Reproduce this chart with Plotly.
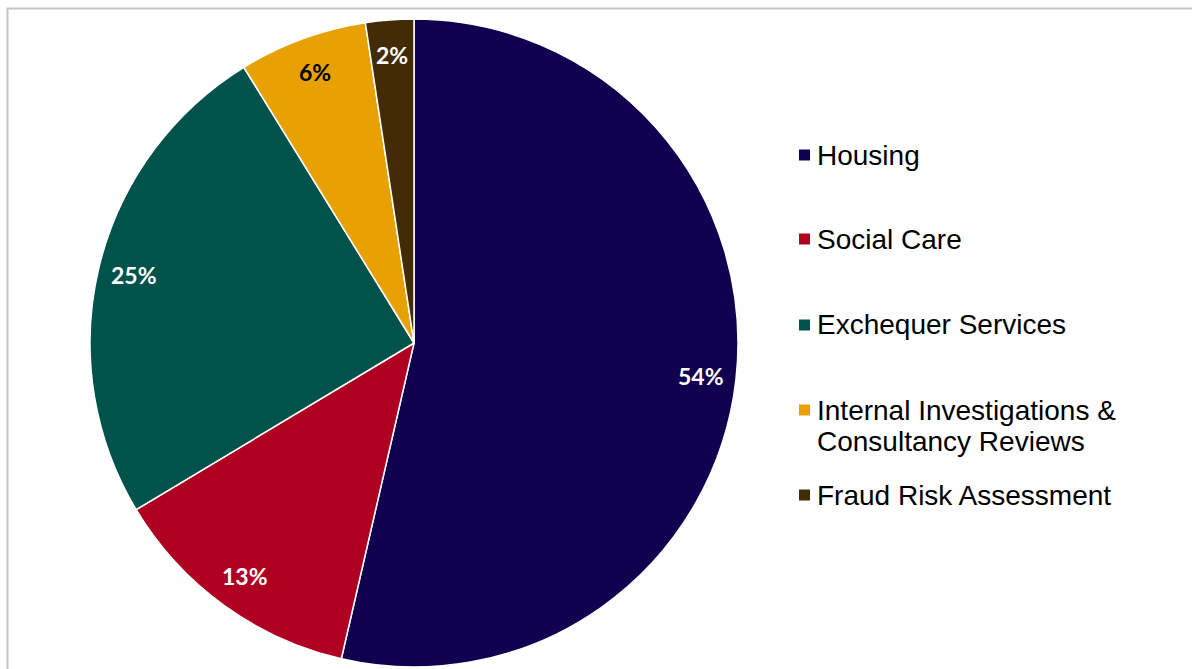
import math
import plotly.graph_objects as go

# Share of audit time by area
categories = [
    "Housing",
    "Social Care",
    "Exchequer Services",
    "Internal Investigations &\nConsultancy Reviews",
    "Fraud Risk Assessment",
]
shares = [53.6, 12.8, 24.8, 6.4, 2.4]
colors = ["#10004F", "#B00021", "#00524A", "#E8A102", "#432C05"]
label_colors = ["white", "white", "white", "black", "white"]

W, H = 1192, 669
CX, CY, R = 414, 343, 324  # pie centre and radius in pixels


def px(x):
    return x / W


def py(y):
    return 1 - y / H


fig = go.Figure()
fig.add_trace(go.Pie(
    labels=[c.replace("\n", " ") for c in categories],
    values=shares,
    sort=False,
    direction="clockwise",
    rotation=0,
    marker=dict(colors=colors, line=dict(color="white", width=1.5)),
    textinfo="none",
    hoverinfo="label+percent",
    showlegend=False,
    domain=dict(x=[px(CX - R), px(CX + R)], y=[py(CY + R), py(CY - R)]),
))

annotations = []
shapes = []

# Percentage labels near the outer edge of each slice
total = sum(shares)
cum = 0.0
for v, tc in zip(shares, label_colors):
    mid = (cum + v / 2) / total * 2 * math.pi
    cum += v
    lx = CX + 0.89 * R * math.sin(mid)
    ly = CY - 0.89 * R * math.cos(mid)
    annotations.append(dict(
        x=px(lx), y=py(ly), xref="paper", yref="paper",
        text=f"<b>{v:.0f}%</b>", showarrow=False,
        xanchor="center", yanchor="middle",
        font=dict(family="Lato", size=23, color=tc),
    ))

# Legend on the right
row_y = [155, 239, 325, 410, 495]
line_gap = 31
for name, col, y in zip(categories, colors, row_y):
    shapes.append(dict(
        type="rect", xref="paper", yref="paper",
        x0=px(799), x1=px(810), y0=py(y + 5.5), y1=py(y - 5.5),
        fillcolor=col, line=dict(width=0),
    ))
    for i, line in enumerate(name.split("\n")):
        annotations.append(dict(
            x=px(815), y=py(y + i * line_gap), xref="paper", yref="paper",
            text=line, showarrow=False, xanchor="left", yanchor="middle",
            font=dict(family="Liberation Sans, Arial", size=28, color="black"),
        ))

# Chart frame
shapes.append(dict(
    type="rect", xref="paper", yref="paper",
    x0=px(7.5), x1=1.02, y0=-0.02, y1=py(8.5),
    line=dict(color="#C6C6C6", width=2), fillcolor="rgba(0,0,0,0)",
    layer="below",
))

fig.update_layout(
    width=W, height=H,
    margin=dict(l=0, r=0, t=0, b=0),
    paper_bgcolor="white",
    plot_bgcolor="white",
    annotations=annotations,
    shapes=shapes,
)

fig.write_html("out.html")
